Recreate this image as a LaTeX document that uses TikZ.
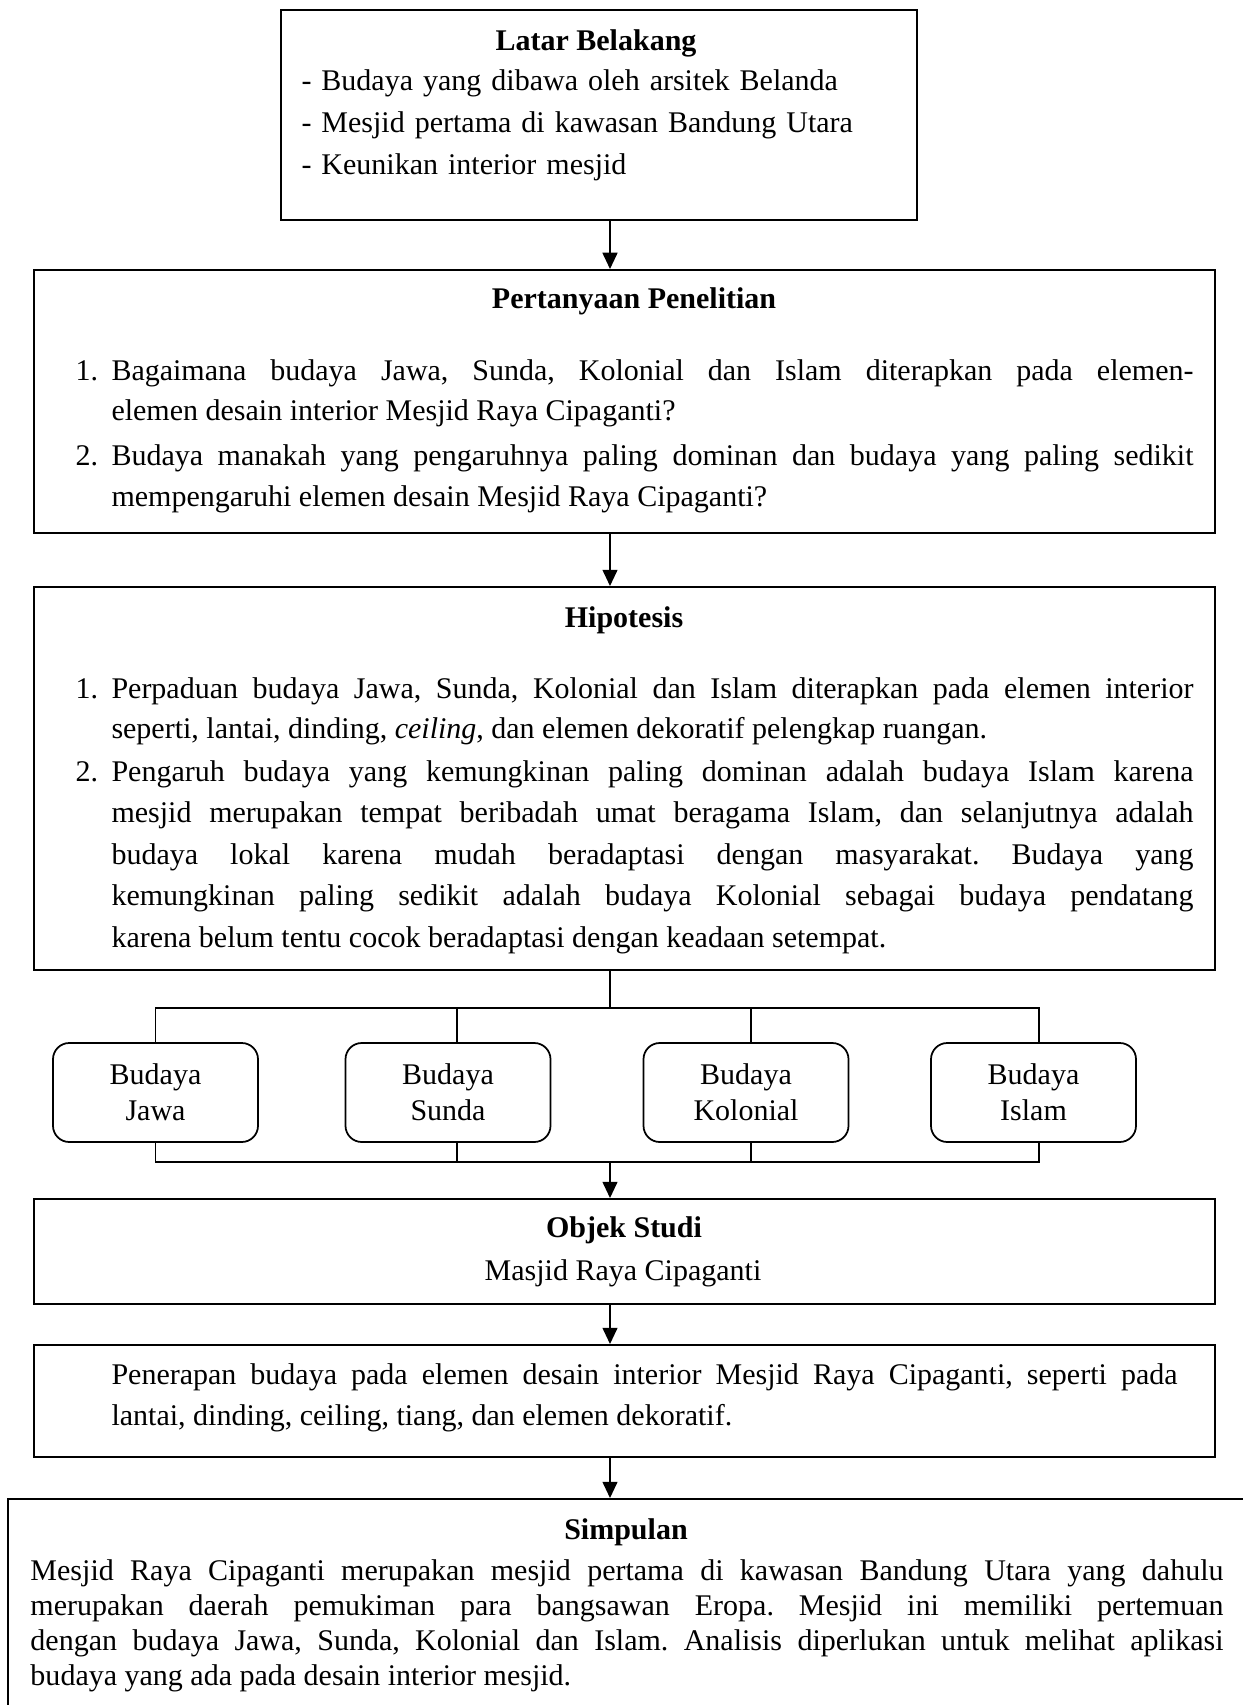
\documentclass[tikz,border=0pt]{standalone}
\usepackage{fontspec}
\setmainfont{Liberation Serif}
\usetikzlibrary{arrows.meta}
\tolerance=10000
\hyphenpenalty=10000
\frenchspacing
\tikzset{
  frame/.style={draw, line width=0.8pt, inner sep=0pt},
  budbox/.style={draw, line width=0.7pt, rounded corners=6.5pt, inner sep=0pt, minimum width=82pt, minimum height=39.6pt, text width=76pt, align=center, font=\fontsize{12}{14.4}\selectfont},
  para/.style={inner sep=0pt, anchor=base west, align=justify, font=\fontsize{12}{#1}\selectfont},
  num/.style={inner sep=0pt, anchor=base west, font=\fontsize{12}{14}\selectfont},
  title/.style={inner sep=0pt, anchor=base, font=\fontsize{12}{14}\selectfont\bfseries},
  plain/.style={inner sep=0pt, anchor=base, font=\fontsize{12}{14}\selectfont},
  link/.style={line width=0.45pt},
  bus/.style={line width=0.6pt},
  arr/.style={line width=0.6pt, -{Triangle[length=6.5pt,width=6pt]}}
}
\begin{document}
\begin{tikzpicture}[x=0.4pt,y=-0.4pt]
\useasboundingbox (0,0) rectangle (1243,1705);
\clip (0,0) rectangle (1243,1705);
\coordinate (axis) at (610,0);

\node[frame, minimum width=254.4pt, minimum height=84pt] (latar) at (599,115) {};
\node[title] (latarT) at (596,51) {Latar Belakang};
\node[para=16.8pt, align=left, text width=240pt] (latarL) at (301,91)
  {- Budaya yang dibawa oleh arsitek Belanda\\
   - Mesjid pertama di kawasan Bandung Utara\\
   - Keunikan interior mesjid};

\node[frame, minimum width=472.4pt, minimum height=105.2pt] (tanya) at (624.5,401.5) {};
\node[title] (tanyaT) at (634,309) {Pertanyaan Penelitian};
\node[num] (tanyaN1) at (75,380) {1.};
\node[para=16pt, text width=432.8pt] (tanya1) at (111,380)
  {Bagaimana budaya Jawa, Sunda, Kolonial dan Islam diterapkan pada elemen-\linebreak
   elemen desain interior Mesjid Raya Cipaganti?};
\node[num] (tanyaN2) at (75,465) {2.};
\node[para=16.4pt, text width=432.8pt] (tanya2) at (111,465)
  {Budaya manakah yang pengaruhnya paling dominan dan budaya yang paling sedikit\linebreak
   mempengaruhi elemen desain Mesjid Raya Cipaganti?};

\node[frame, minimum width=472.4pt, minimum height=153.2pt] (hipo) at (624.5,778.5) {};
\node[title] (hipoT) at (624,627) {Hipotesis};
\node[num] (hipoN1) at (75,698) {1.};
\node[para=16.2pt, text width=432.8pt] (hipo1) at (111,698)
  {Perpaduan budaya Jawa, Sunda, Kolonial dan Islam diterapkan pada elemen interior\linebreak
   seperti, lantai, dinding, \textit{ceiling}, dan elemen dekoratif pelengkap ruangan.};
\node[num] (hipoN2) at (75,781) {2.};
\node[para=16.6pt, text width=432.8pt] (hipo2) at (111,781)
  {Pengaruh budaya yang kemungkinan paling dominan adalah budaya Islam karena\linebreak
   mesjid merupakan tempat beribadah umat beragama Islam, dan selanjutnya adalah\linebreak
   budaya lokal karena mudah beradaptasi dengan masyarakat. Budaya yang\linebreak
   kemungkinan paling sedikit adalah budaya Kolonial sebagai budaya pendatang\linebreak
   karena belum tentu cocok beradaptasi dengan keadaan setempat.};

\node[budbox] (jawa) at (155.5,1092.5) {Budaya\\Jawa};
\node[budbox] (sunda) at (448,1092.5) {Budaya\\Sunda};
\node[budbox] (kolonial) at (746,1092.5) {Budaya\\Kolonial};
\node[budbox] (islam) at (1033.5,1092.5) {Budaya\\Islam};
\coordinate (bustop) at (610,1008);
\coordinate (busbot) at (610,1162);

\node[frame, minimum width=472.4pt, minimum height=42pt] (objek) at (624.5,1251.5) {};
\node[title] (objekT) at (624,1237) {Objek Studi};
\node[plain] (objekS) at (623,1280) {Masjid Raya Cipaganti};

\node[frame, minimum width=472.4pt, minimum height=44.8pt] (terap) at (624.5,1401) {};
\node[para=16.4pt, text width=426.4pt] (terapL) at (111,1384)
  {Penerapan budaya pada elemen desain interior Mesjid Raya Cipaganti, seperti pada\linebreak
   lantai, dinding, ceiling, tiang, dan elemen dekoratif.};

\node[frame, minimum width=500.8pt, minimum height=88.4pt] (simpul) at (634,1609.5) {};
\node[title] (simpulT) at (626,1539) {Simpulan};
\node[para=14pt, text width=477.2pt] (simpulL) at (30,1580)
  {Mesjid Raya Cipaganti merupakan mesjid pertama di kawasan Bandung Utara yang dahulu\linebreak
   merupakan daerah pemukiman para bangsawan Eropa. Mesjid ini memiliki pertemuan\linebreak
   dengan budaya Jawa, Sunda, Kolonial dan Islam. Analisis diperlukan untuk melihat aplikasi\linebreak
   budaya yang ada pada desain interior mesjid.};

\draw[arr] (latar.south -| axis) -- (tanya.north -| axis);
\draw[arr] (tanya.south -| axis) -- (hipo.north -| axis);
\draw[link] (hipo.south -| axis) -- (bustop);
\draw[bus] (jawa.north) |- ([xshift=2.2pt]islam.north |- bustop) -- ([xshift=2.2pt]islam.north);
\draw[link] ([xshift=3.6pt]sunda.north) -- ([xshift=3.6pt]sunda.north |- bustop);
\draw[link] ([xshift=2pt]kolonial.north) -- ([xshift=2pt]kolonial.north |- bustop);
\draw[bus] (jawa.south) |- ([xshift=2.2pt]islam.south |- busbot) -- ([xshift=2.2pt]islam.south);
\draw[link] ([xshift=3.6pt]sunda.south) -- ([xshift=3.6pt]sunda.south |- busbot);
\draw[link] ([xshift=2pt]kolonial.south) -- ([xshift=2pt]kolonial.south |- busbot);
\draw[arr] (busbot) -- (objek.north -| axis);
\draw[arr] (objek.south -| axis) -- (terap.north -| axis);
\draw[arr] (terap.south -| axis) -- (simpul.north -| axis);
\end{tikzpicture}
\end{document}
